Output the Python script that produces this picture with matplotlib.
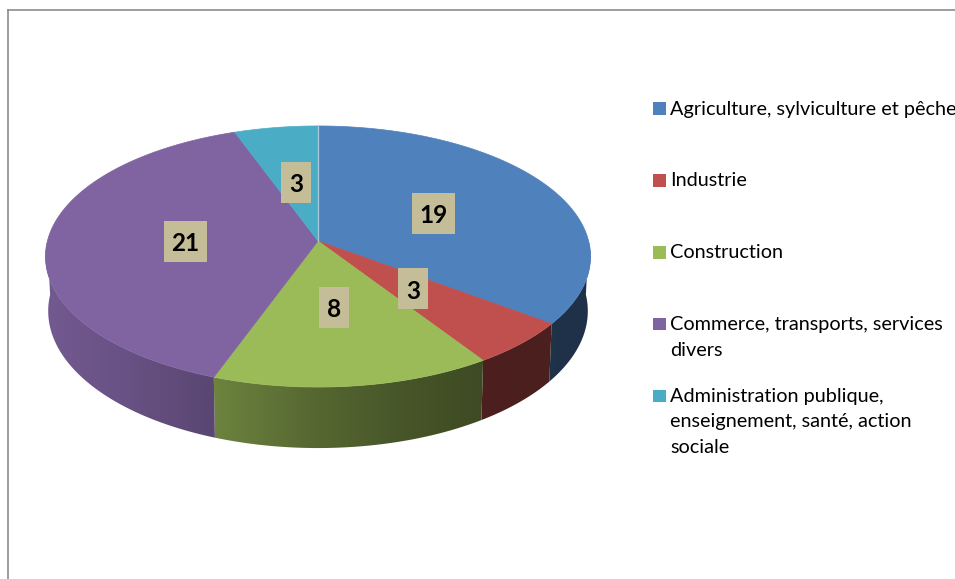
import numpy as np
import matplotlib
matplotlib.use("Agg")
import matplotlib.pyplot as plt
from matplotlib.patches import Rectangle, Polygon

# Data
categories = [
    "Agriculture, sylviculture et pêche",
    "Industrie",
    "Construction",
    "Commerce, transports, services\ndivers",
    "Administration publique,\nenseignement, santé, action\nsociale",
]
values = [19, 3, 8, 21, 3]
colors = ["#4F81BD", "#C0504D", "#9BBB59", "#8064A2", "#4BACC6"]

W, H = 955, 579
fig = plt.figure(figsize=(W / 100, H / 100), dpi=100)
ax = fig.add_axes([0, 0, 1, 1])
ax.set_xlim(0, W)
ax.set_ylim(H, 0)
ax.axis("off")

# Tilted pie geometry in pixel units (perspective-projected disc)
CX, CY = 318, 241
RX, RY = 270.6, 128.7
K = 0.1188          # perspective strength
DEPTH = 61          # thickness at the front
TAPER = 0.99        # bottom rim slightly smaller


def rim(phi_deg, r=1.0):
    p = np.radians(phi_deg)
    X = r * np.sin(p)
    Z = r * np.cos(p)
    d = 1 + K * Z
    return CX + RX * X / d, CY - RY * Z / d


def base(phi_deg):
    x, y = rim(phi_deg)
    Z = np.cos(np.radians(phi_deg))
    return CX + (x - CX) * TAPER, y + DEPTH * (1 - K) / (1 + K * Z)


def shade(x):
    xs = [40, 130, 214, 317, 400, 480, 600]
    fs = [0.90, 0.81, 0.70, 0.55, 0.46, 0.40, 0.38]
    return np.interp(x, xs, fs)


def to_rgb(h):
    h = h.lstrip("#")
    return np.array([int(h[i:i + 2], 16) / 255 for i in (0, 2, 4)])


total = float(sum(values))
bounds = np.concatenate([[0], np.cumsum(values)]) / total * 360.0

# Side walls (front half only) with a horizontal light-to-dark gradient
for i, col in enumerate(colors):
    a0, a1 = max(bounds[i], 90), min(bounds[i + 1], 270)
    if a1 <= a0:
        continue
    phis = np.linspace(a0, a1, 300)
    tx, ty = rim(phis)
    bx, by = base(phis)
    pts = np.column_stack([np.r_[tx, bx[::-1]], np.r_[ty, by[::-1]]])
    x0, x1 = pts[:, 0].min() - 2, pts[:, 0].max() + 2
    y0, y1 = pts[:, 1].min() - 2, pts[:, 1].max() + 2
    gx = np.linspace(x0, x1, 400)
    grad = np.clip(to_rgb(col)[None, None, :] * shade(gx)[None, :, None], 0, 1)
    grad = np.repeat(grad, 2, axis=0)
    clip = Polygon(pts, closed=True, fc="none", ec="none", transform=ax.transData)
    ax.add_patch(clip)
    im = ax.imshow(grad, extent=(x0, x1, y1, y0), aspect="auto",
                   interpolation="bilinear", zorder=2)
    im.set_clip_path(clip)

ax.set_xlim(0, W)
ax.set_ylim(H, 0)

# Top faces
for i, col in enumerate(colors):
    phis = np.linspace(bounds[i], bounds[i + 1], 200)
    xs, ys = rim(phis)
    pts = np.column_stack([np.r_[CX, xs], np.r_[CY, ys]])
    ax.add_patch(Polygon(pts, closed=True, fc=col, ec=col, lw=0.5, zorder=3))

# faint highlight along the seam at twelve o'clock
tx, ty = rim(0)
ax.plot([CX, tx], [CY, ty], color="#A9C9DD", lw=0.9, zorder=4)

# Value labels in tan boxes
for i, v in enumerate(values):
    mid = (bounds[i] + bounds[i + 1]) / 2
    lx, ly = rim(mid, 0.49)
    txt = str(v)
    bw, bh = 17 + 13.2 * len(txt), 41
    ax.add_patch(Rectangle((lx - bw / 2, ly - bh / 2), bw, bh,
                           fc="#C4BD97", ec="none", zorder=5))
    ax.text(lx, ly + 0.5, txt, ha="center", va="center_baseline", fontsize=17.5,
            fontweight="bold", family="Lato", color="black", zorder=6)

# Legend
leg_x_box, leg_x_text = 653, 670
first_baselines = [114.5, 186.5, 258.5, 330.0, 402.0]
line_pitch = 25.5
for lab, col, yb in zip(categories, colors, first_baselines):
    ax.add_patch(Rectangle((leg_x_box, yb - 12.5), 12.5, 12.5, fc=col, ec="none", zorder=5))
    for j, line in enumerate(lab.split("\n")):
        ax.text(leg_x_text, yb + j * line_pitch, line, ha="left", va="baseline",
                fontsize=14.3, family="Lato", color="black", zorder=5)

# Chart frame
ax.plot([8, 8], [H + 5, 10], color="#8C8C8C", lw=1.2, solid_capstyle="projecting", zorder=1)
ax.plot([8, W + 5], [10, 10], color="#8C8C8C", lw=1.2, solid_capstyle="projecting", zorder=1)

fig.savefig("out.png", dpi=100)
